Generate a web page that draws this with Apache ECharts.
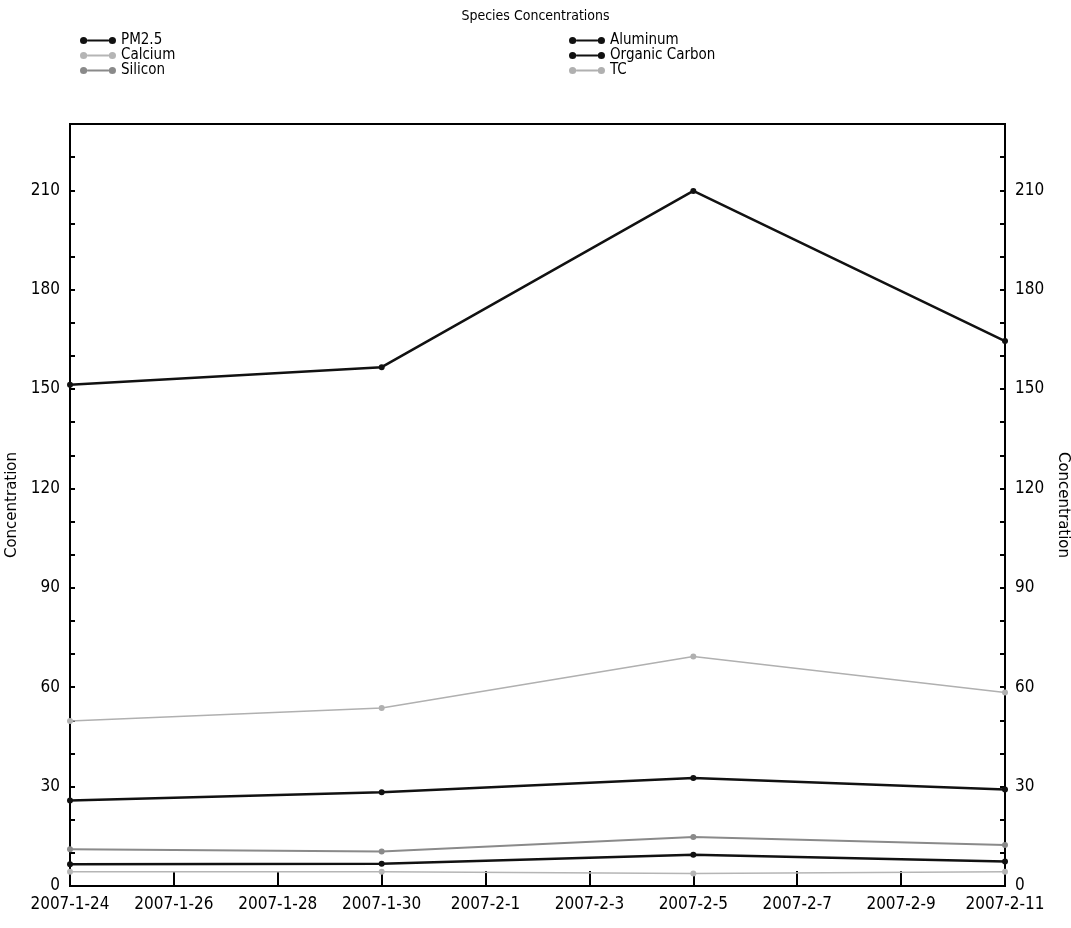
<!DOCTYPE html>
<html>
<head>
<meta charset="utf-8">
<script src="https://cdn.jsdelivr.net/npm/echarts@6/dist/echarts.min.js"></script>
<style>
html,body{margin:0;padding:0;background:#fff;}
#chart{width:1071px;height:928px;}
</style>
</head>
<body>
<div id="chart"></div>
<script>
// Axis day labels (every day; shown every other day)
const days = ['2007-1-24','2007-1-25','2007-1-26','2007-1-27','2007-1-28','2007-1-29','2007-1-30','2007-1-31','2007-2-1','2007-2-2','2007-2-3','2007-2-4','2007-2-5','2007-2-6','2007-2-7','2007-2-8','2007-2-9','2007-2-10','2007-2-11'];
// Sample dates
const sampleDates = ['2007-1-24','2007-1-30','2007-2-5','2007-2-11'];
// Series values
const pm25 = [151.3, 156.6, 209.8, 164.5];
const aluminum = [6.6, 6.7, 9.4, 7.4];
const calcium = [4.3, 4.3, 3.8, 4.3];
const organicCarbon = [25.8, 28.3, 32.6, 29.1];
const silicon = [11.1, 10.4, 14.8, 12.4];
const tc = [49.8, 53.7, 69.3, 58.4];

const FONT = '"DejaVu Sans Condensed", "Liberation Sans Narrow", sans-serif';
const legendIcon = 'path://M0,4 A4,4 0 1,0 8,4 A4,4 0 1,0 0,4 Z M8,3 L32,3 L32,5 L8,5 Z M32,4 A4,4 0 1,0 40,4 A4,4 0 1,0 32,4 Z';

function pairs(vals){ return sampleDates.map((d,i)=>[d, vals[i]]); }
function mk(name, vals, color, width){
  return {
    name: name, type: 'line', data: pairs(vals),
    symbol: 'circle', symbolSize: 6, showSymbol: true,
    lineStyle: {color: color, width: width},
    itemStyle: {color: color},
    emphasis: {disabled: true},
    animation: false
  };
}

const chart = echarts.init(document.getElementById('chart'));
const yCommon = {
  type: 'value', min: 0, max: 230, interval: 10,
  axisLine: {show: true, lineStyle: {color: '#000', width: 2}},
  axisTick: {show: true, inside: true, length: 5, lineStyle: {color: '#000', width: 2}},
  axisLabel: {color: '#000', fontFamily: FONT, fontSize: 17, margin: 10,
    formatter: v => (v % 30 === 0 && v <= 210) ? String(v) : ''},
  splitLine: {show: false},
  nameLocation: 'middle',
  nameTextStyle: {color: '#000', fontFamily: '"DejaVu Sans", sans-serif', fontSize: 15}
};
const legendText = {color: '#000', fontFamily: FONT, fontSize: 15, lineHeight: 15};
chart.setOption({
  backgroundColor: '#fff',
  title: {text: 'Species Concentrations', left: 'center', top: 4,
    textStyle: {color: '#000', fontFamily: FONT, fontSize: 14, fontWeight: 'normal'}},
  legend: [
    {data: ['PM2.5','Calcium','Silicon'], orient: 'vertical', left: 80, top: 33,
     icon: legendIcon, itemWidth: 36, itemHeight: 8, itemGap: 0, padding: 0,
     textStyle: legendText},
    {data: ['Aluminum','Organic Carbon','TC'], orient: 'vertical', left: 569, top: 33,
     icon: legendIcon, itemWidth: 36, itemHeight: 8, itemGap: 0, padding: 0,
     textStyle: legendText}
  ],
  grid: {left: 70, right: 66, top: 124, bottom: 42, show: true, borderColor: '#000', borderWidth: 2,
    containLabel: false, outerBoundsMode: 'none'},
  xAxis: {
    type: 'category', data: days, boundaryGap: false,
    axisLine: {show: true, lineStyle: {color: '#000', width: 2}},
    axisTick: {show: true, inside: true, length: 15, interval: 1, lineStyle: {color: '#000', width: 2}},
    axisLabel: {color: '#000', fontFamily: FONT, fontSize: 17, interval: 1, margin: 10},
    splitLine: {show: false}
  },
  yAxis: [
    Object.assign({}, yCommon, {position: 'left', name: 'Concentration', nameGap: 46}),
    Object.assign({}, yCommon, {position: 'right', name: 'Concentration', nameGap: 41, nameRotate: -90})
  ],
  series: [
    mk('PM2.5', pm25, '#111', 2.5),
    mk('Calcium', calcium, '#b5b5b5', 1.5),
    mk('Silicon', silicon, '#8a8a8a', 2),
    mk('Aluminum', aluminum, '#111', 2.5),
    mk('Organic Carbon', organicCarbon, '#111', 2.5),
    mk('TC', tc, '#b0b0b0', 1.5)
  ]
});
</script>
</body>
</html>
